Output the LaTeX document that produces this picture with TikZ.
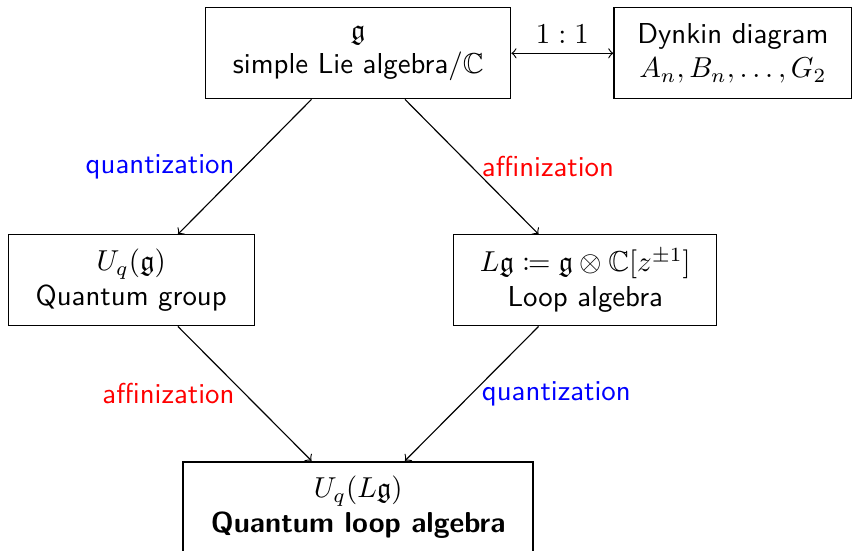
\documentclass[tikz,border=0pt]{standalone}
\usepackage{amsmath}
\usepackage{amssymb}
\usepackage{mathtools}
\usepackage{tikz}
\usetikzlibrary{positioning}

\begin{document}
\begin{tikzpicture}[
    box/.style = {
        draw, font=\sffamily, align=center,
        minimum height=1.11cm, inner sep=2pt
    },
    mainbox/.style = {
        box, thick
    },
    lbl/.style = {font=\sffamily},
    arr/.style = {->},
]
\useasboundingbox (0,0) rectangle (10.43,-6.72);

%% ── Top row ─────────────────────────────────────────────────────────
\node[box, minimum width=3.72cm] (lie) at (4.37,-0.65)
  {$\mathfrak{g}$\\ simple Lie algebra/$\mathbb{C}$};
\node[box, minimum width=2.90cm] (dynkin) at (8.94,-0.65)
  {Dynkin diagram\\ $A_n, B_n, \dots, G_2$};

%% ── Middle row ──────────────────────────────────────────────────────
\node[box, minimum width=3.00cm] (qgroup) at (1.60,-3.42)
  {$U_q(\mathfrak{g})$\\ Quantum group};
\node[box, minimum width=3.21cm] (loop) at (7.14,-3.42)
  {$L\mathfrak{g} \coloneqq \mathfrak{g}\otimes\mathbb{C}[z^{\pm 1}]$\\ Loop algebra};

%% ── Bottom ──────────────────────────────────────────────────────────
\node[mainbox, minimum width=4.27cm] (qloop) at (4.37,-6.19)
  {$U_q(L\mathfrak{g})$\\ \bfseries Quantum loop algebra};

%% ── Arrows ──────────────────────────────────────────────────────────
\draw[<->] (lie.east) -- node[above] {$1:1$} (dynkin.west);

\draw[arr] ([xshift=-0.57cm]lie.south) --
  node[lbl, left, text=blue] {quantization} ([xshift=0.57cm]qgroup.north);
\draw[arr] ([xshift=0.57cm]lie.south) --
  node[lbl, right, text=red] {affinization} ([xshift=-0.57cm]loop.north);

\draw[arr] ([xshift=0.57cm]qgroup.south) --
  node[lbl, left, text=red] {affinization} ([xshift=-0.57cm]qloop.north);
\draw[arr] ([xshift=-0.57cm]loop.south) --
  node[lbl, right, text=blue] {quantization} ([xshift=0.57cm]qloop.north);

\end{tikzpicture}
\end{document}
